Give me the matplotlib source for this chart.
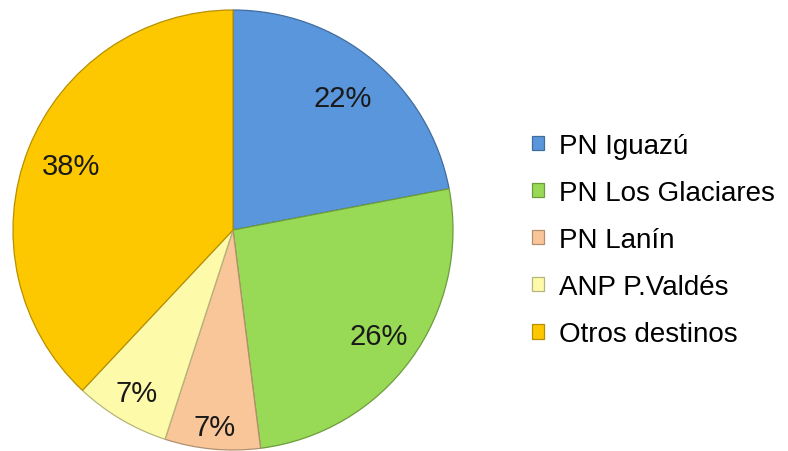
import numpy as np
import matplotlib.pyplot as plt
import matplotlib.colors as mcolors

plt.rcParams['font.family'] = ['Liberation Sans', 'DejaVu Sans']

# data
destinos = ['PN Iguazú', 'PN Los Glaciares', 'PN Lanín', 'ANP P.Valdés', 'Otros destinos']
porcentajes = [22, 26, 7, 7, 38]
colores = ['#5a96dc', '#98d955', '#f9c699', '#fdfbaa', '#fec800']
label_r = [0.78, 0.82, 0.90, 0.86, 0.79]

fig = plt.figure(figsize=(7.88, 4.52), dpi=100)
ax = fig.add_axes([13 / 788, 1 - 451 / 452, 440 / 788, 440 / 452])

edge = [tuple(np.array(mcolors.to_rgb(c)) * 0.72) for c in colores]
wedges, texts, autotexts = ax.pie(porcentajes, colors=colores, startangle=90,
                                  counterclock=False, autopct='%d%%',
                                  wedgeprops=dict(linewidth=0.9),
                                  textprops=dict(fontsize=21, color='#1a1a1a'))
for w, e in zip(wedges, edge):
    w.set_edgecolor(e)

# move percent labels out a little, as in the original
for w, t, r in zip(wedges, autotexts, label_r):
    ang = np.deg2rad((w.theta1 + w.theta2) / 2)
    t.set_position((r * np.cos(ang), r * np.sin(ang)))

ax.set_xlim(-1, 1)
ax.set_ylim(-1, 1)
ax.set_aspect('equal')

fig.legend(wedges, destinos, loc='center left', bbox_to_anchor=(518 / 788, 1 - 241 / 452),
           frameon=False, fontsize=20, handlelength=0.42, handleheight=0.42,
           handletextpad=0.55, labelspacing=0.76, borderpad=0)

fig.savefig('out.png', dpi=100)
